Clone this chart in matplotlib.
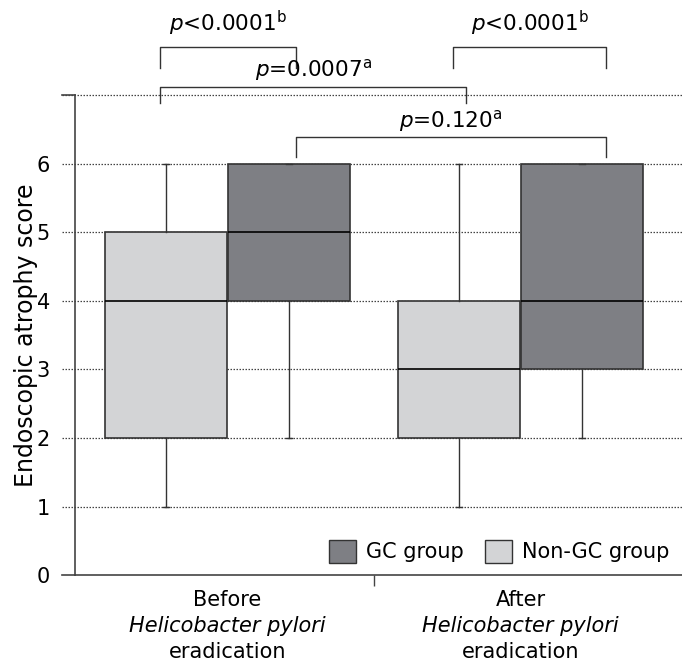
import matplotlib
matplotlib.use('Agg')
import matplotlib.pyplot as plt
from matplotlib.patches import Patch

plt.rcParams['font.family'] = ['DejaVu Sans']
plt.rcParams['mathtext.fontset'] = 'dejavusans'

# box statistics: [before, after]
periods = ['Before', 'After']
nongc_low = [1, 1]
nongc_q1 = [2, 2]
nongc_med = [4, 3]
nongc_q3 = [5, 4]
nongc_high = [6, 6]

gc_low = [2, 2]
gc_q1 = [4, 3]
gc_med = [5, 4]
gc_q3 = [6, 6]
gc_high = [6, 6]

yticks = [0, 1, 2, 3, 4, 5, 6, 7]
light = '#d3d4d6'
dark = '#7e7f84'
edge = '#333333'
axcol = '#444444'

fig = plt.figure(figsize=(6.82, 6.61), dpi=100)
ax = fig.add_axes([0.110, 0.130, 0.890, 0.726])

# dotted grid, running out past the spine like the ticks in the original
trans = ax.get_yaxis_transform()
for y in yticks[1:]:
    ax.plot([-0.022, 1.0], [y, y], transform=trans, color=axcol,
            linestyle=(0, (1.2, 1.2)), linewidth=0.9, zorder=0, clip_on=False)
for y in [0, 7]:
    ax.plot([-0.022, 0], [y, y], transform=trans, color=axcol, linewidth=1.2, clip_on=False)


def stats(lo, q1, med, q3, hi):
    return [dict(whislo=a, q1=b, med=c, q3=d, whishi=e, fliers=[])
            for a, b, c, d, e in zip(lo, q1, med, q3, hi)]


offset = 0.21
width = 0.415
pos = [0, 1]
common = dict(widths=width, patch_artist=True, showfliers=False, capwidths=0.02,
              medianprops=dict(color='black', linewidth=1.2),
              whiskerprops=dict(color=edge, linewidth=1.0),
              capprops=dict(color=edge, linewidth=1.0))
ax.bxp(stats(nongc_low, nongc_q1, nongc_med, nongc_q3, nongc_high),
       positions=[p - offset for p in pos],
       boxprops=dict(facecolor=light, edgecolor=edge, linewidth=1.2), **common)
ax.bxp(stats(gc_low, gc_q1, gc_med, gc_q3, gc_high),
       positions=[p + offset for p in pos],
       boxprops=dict(facecolor=dark, edgecolor=edge, linewidth=1.2), **common)

ax.set_xlim(-0.52, 1.55)
ax.set_ylim(0, 7)
ax.set_yticks(yticks)
ax.set_yticklabels([str(t) for t in yticks[:-1]] + [''], fontsize=15)
ax.set_xticks([0.5])
ax.set_xticklabels([''])
ax.tick_params(axis='x', direction='out', length=8, width=1, color=axcol)
ax.tick_params(axis='y', length=0, pad=18)
for s in ['top', 'right']:
    ax.spines[s].set_visible(False)
for s in ['left', 'bottom']:
    ax.spines[s].set_color(axcol)
    ax.spines[s].set_linewidth(1.2)

ax.set_ylabel('Endoscopic atrophy score', fontsize=17, labelpad=-1)

# category labels
for p, name in zip(pos, periods):
    ax.text(p, -0.37, name, ha='center', va='center', fontsize=15)
    ax.text(p, -0.745, 'Helicobacter pylori', ha='center', va='center', fontsize=15, style='italic')
    ax.text(p, -1.12, 'eradication', ha='center', va='center', fontsize=15)


def bracket(x1, x2, y_top, y_bot, label, ty):
    ax.plot([x1, x1, x2, x2], [y_bot, y_top, y_top, y_bot], color=edge,
            linewidth=1.0, clip_on=False)
    ax.text((x1 + x2) / 2, ty, label, ha='center', va='center', fontsize=15.5)


bracket(-0.23, 0.235, 7.70, 7.39, r'$p$<0.0001$^{\mathrm{b}}$', 8.05)
bracket(0.77, 1.29, 7.70, 7.39, r'$p$<0.0001$^{\mathrm{b}}$', 8.05)
bracket(-0.23, 0.815, 7.12, 6.88, r'$p$=0.0007$^{\mathrm{a}}$', 7.37)
bracket(0.235, 1.29, 6.39, 6.10, r'$p$=0.120$^{\mathrm{a}}$', 6.62)

handles = [Patch(facecolor=dark, edgecolor=edge, label='GC group'),
           Patch(facecolor=light, edgecolor=edge, label='Non-GC group')]
ax.legend(handles=handles, loc='lower right', ncol=2, frameon=False, fontsize=15,
          bbox_to_anchor=(1.0, 0.0), handlelength=1.3, handleheight=1.3,
          columnspacing=1.0, handletextpad=0.5, borderaxespad=0.2)

fig.savefig('out.png', dpi=100)
